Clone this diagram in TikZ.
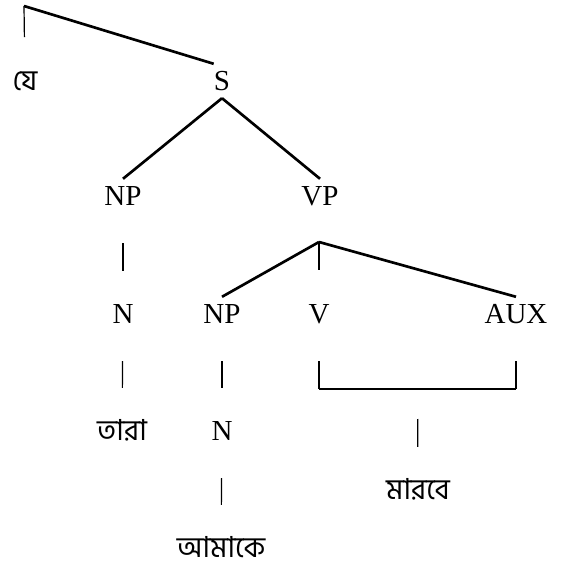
\documentclass[tikz,border=0pt]{standalone}
\usepackage{fontspec}
\setmainfont{Liberation Serif}
\newfontfamily\bnfont[Script=Bengali]{Hind Siliguri}

\begin{document}
\begin{tikzpicture}[x=.75pt,y=-.75pt,font=\fontsize{21.75}{26}\selectfont,
  lab/.style={inner xsep=0pt,inner ysep=5.5pt,text height=14.4pt,text depth=0pt},
  bn/.style={lab,font=\fontsize{21.75}{26}\selectfont\bnfont},
  edge/.style={line width=2pt},
  bar/.style={line width=.9pt,shorten <=22.5pt,shorten >=19.5pt},
  stem/.style={line width=.9pt,shorten >=20pt}]
  \useasboundingbox (0,0) rectangle (564,566);
  \node[bn] (je) at (25,81) {যে};
  \node[lab] (s) at (222,81) {S};
  \node[lab] (np1) at (123,196) {NP};
  \node[lab] (vp) at (320,196) {VP};
  \node[lab] (n1) at (123,314) {N};
  \node[lab] (np2) at (222,314) {NP};
  \node[lab] (v) at (319,314) {V};
  \node[lab] (aux) at (516,314) {AUX};
  \node[bn] (tara) at (122,431) {তারা};
  \node[lab] (n2) at (222,431) {N};
  \node[bn] (marbe) at (418,490) {মারবে};
  \node[bn] (amake) at (221,548) {আমাকে};
  \coordinate (top) at (24,6);
  \coordinate (vtop) at (319,242);
  \coordinate (vb) at (319,389);
  \coordinate (ab) at (516,389);
  \path (vb) -- (ab) coordinate[midway] (mid);
  \draw[stem] (top) -- (je);
  \draw[edge] (top) -- (s.north west);
  \draw[edge] (s.south) -- (np1.north);
  \draw[edge] (s.south) -- (vp.north);
  \draw[stem] (vtop) -- (v);
  \draw[edge] (vtop) -- (np2.north);
  \draw[edge] (vtop) -- (aux.north);
  \foreach \a/\b in {np1/n1,n1/tara,np2/n2,n2/amake,mid/marbe}
    \draw[bar] (\a) -- (\b);
  \draw[bar,shorten >=0pt] (v) -- (vb);
  \draw[bar,shorten >=0pt] (aux) -- (ab);
  \draw[edge] (vb) -- (ab);
\end{tikzpicture}
\end{document}
